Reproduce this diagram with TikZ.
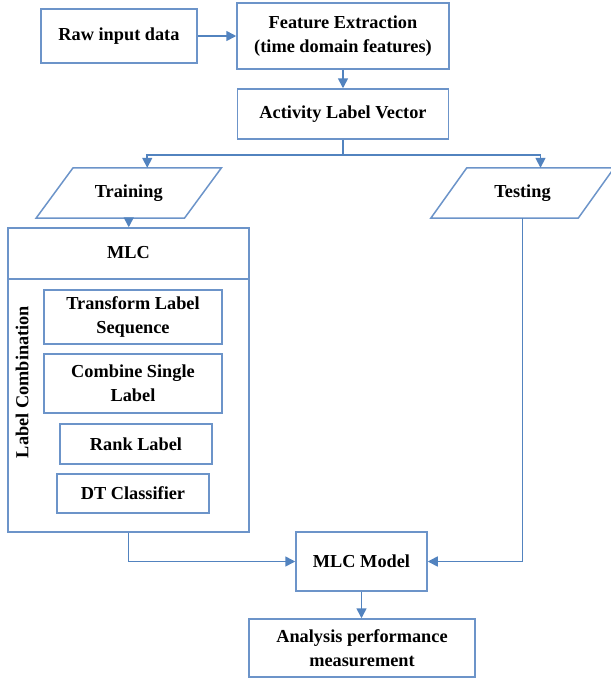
\documentclass[tikz,border=0pt]{standalone}
\usepackage{fontspec}
\setmainfont{Liberation Serif}
\usetikzlibrary{arrows.meta,calc}
\definecolor{boxblue}{HTML}{6C94C9}
\definecolor{arrblue}{HTML}{5283BF}
\begin{document}
\begin{tikzpicture}[x=1pt,y=-1pt,
  lbl/.style={font=\bfseries\fontsize{18.3}{24}\selectfont, align=center, text=black},
  box/.style={lbl, draw=boxblue, line width=1.5pt, inner sep=0pt},
  ghost/.style={lbl, inner sep=0pt},
  conn/.style={draw=arrblue, line width=1.6pt},
  arr/.style={conn, -{Triangle[length=10pt,width=10pt]}}]
\useasboundingbox (0,0) rectangle (611,681);

% top row
\node[box, minimum width=156pt, minimum height=54pt] (raw) at (119,36) {Raw input data};
\node[box, minimum width=212pt, minimum height=66pt] (fe) at (343,36) {Feature Extraction\\(time domain features)};
\node[box, minimum width=211pt, minimum height=50pt] (alv) at (343,114) {Activity Label Vector};

% parallelograms
\node[ghost, minimum width=148pt, minimum height=50pt] (train) at (128.75,193) {Training};
\node[ghost, minimum width=147pt, minimum height=50pt] (test) at (522.5,193) {Testing};
\draw[boxblue, line width=1.5pt] ($(train.north west)+(18.5,0)$) -- ($(train.north east)+(18.5,0)$)
  -- ($(train.south east)+(-18.5,0)$) -- ($(train.south west)+(-18.5,0)$) -- cycle;
\draw[boxblue, line width=1.5pt] ($(test.north west)+(18,0)$) -- ($(test.north east)+(18,0)$)
  -- ($(test.south east)+(-18,0)$) -- ($(test.south west)+(-18,0)$) -- cycle;
\coordinate (traintop) at ($(train.north)+(18.5,0)$);
\coordinate (testtop) at ($(test.north)+(18,0)$);

% MLC container
\node[box, minimum width=241pt, minimum height=304pt] (mlc) at (128.5,380) {};
\coordinate (hdrl) at (8,279);
\coordinate (hdrr) at (249,279);
\draw[boxblue, line width=1.5pt] (hdrl) -- (hdrr);
\node[ghost] (mlct) at (128.5,253) {MLC};
\node[ghost, rotate=90] (lc) at (22,382) {Label Combination};
\node[box, minimum width=178pt, minimum height=54pt] (tls) at (133,317) {Transform Label\\Sequence};
\node[box, minimum width=178pt, minimum height=59pt] (csl) at (133,383.5) {Combine Single\\Label};
\node[box, minimum width=152pt, minimum height=40pt] (rank) at (136,444) {Rank Label};
\node[box, minimum width=152pt, minimum height=39pt] (dt) at (133,493.5) {DT Classifier};

% bottom
\node[box, minimum width=131pt, minimum height=59pt] (model) at (361.5,561.5) {MLC Model};
\node[box, minimum width=226pt, minimum height=58pt] (ana) at (362,648) {Analysis performance\\measurement};

% connectors
\draw[arr] (raw) -- (fe);
\draw[arr] (fe) -- (alv);
\coordinate (split) at ($(alv.south)+(0,15)$);
\draw[conn] (alv.south) -- (split);
\draw[arr] (split) -| (traintop);
\draw[arr] (split) -| (testtop);
\draw[arr] (train.south) -- (train.south |- mlc.north);
\draw[arr] (mlc.south) |- (model.west);
\draw[arr] (test.south) |- (model.east);
\draw[arr] (model.south) -- (model.south |- ana.north);
\end{tikzpicture}
\end{document}
